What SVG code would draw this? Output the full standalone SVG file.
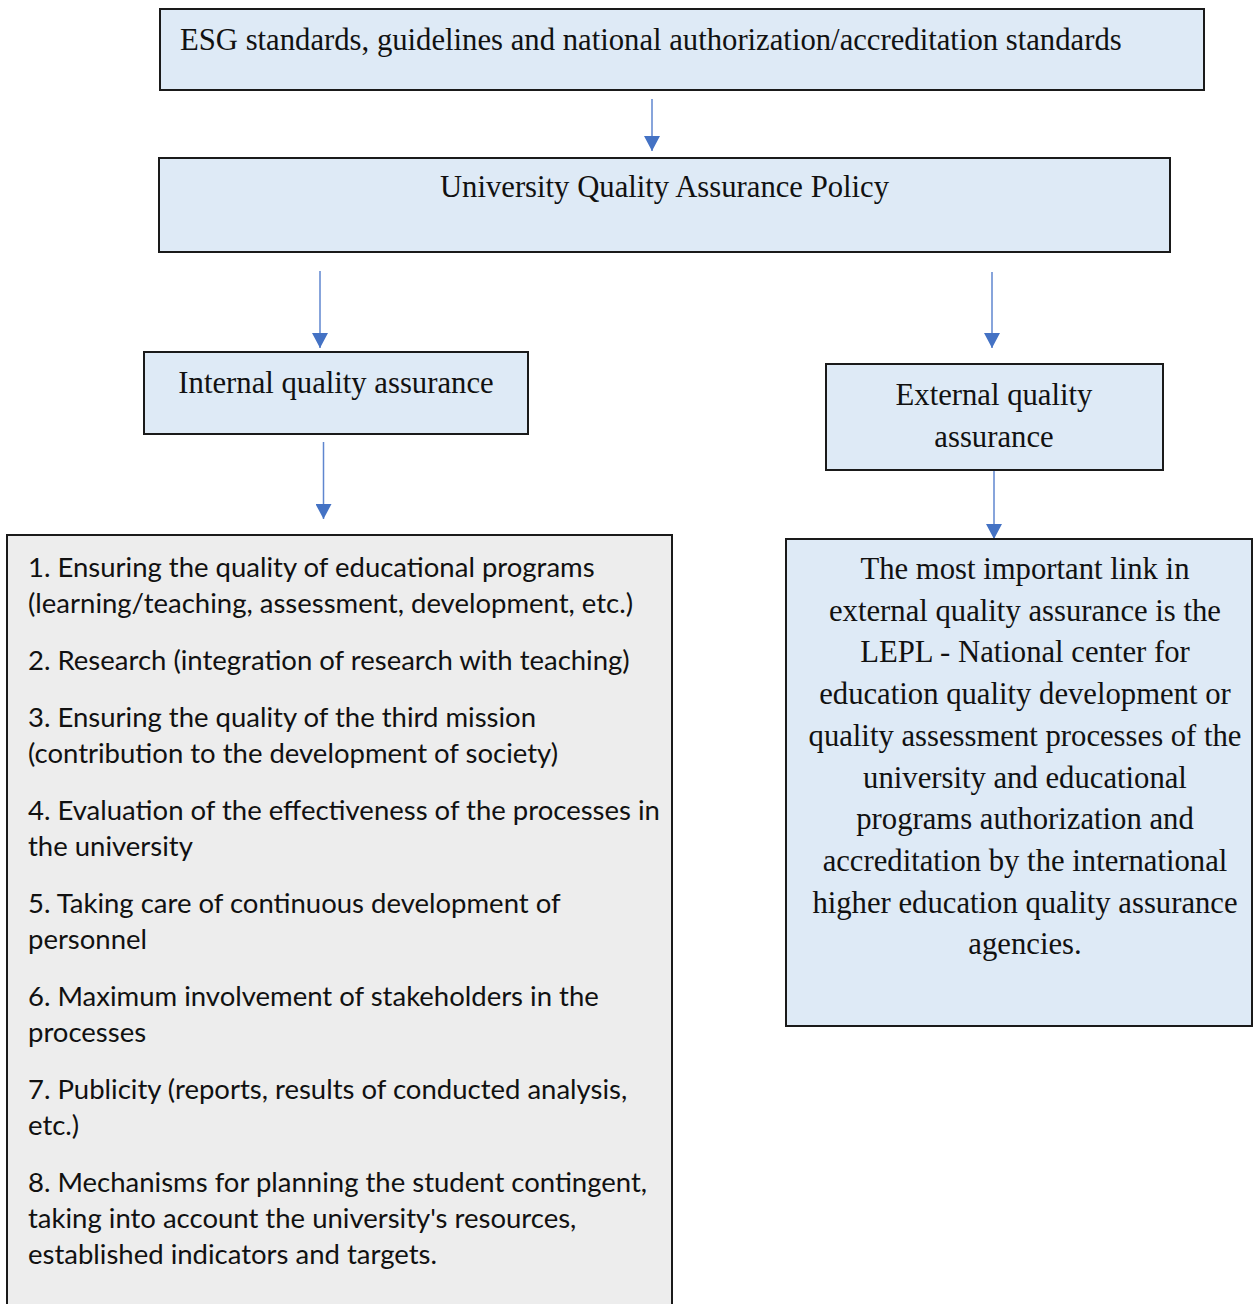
<svg xmlns="http://www.w3.org/2000/svg" width="1253" height="1304" viewBox="0 0 1253 1304">
<style>
.box{fill:#DEEAF6;stroke:#1a1a1a;stroke-width:2}
.gbox{fill:#EDEDED;stroke:#1a1a1a;stroke-width:2}
.serif{font-family:"Liberation Serif","Times New Roman",serif;font-size:30.7px;fill:#111}
.sans{font-family:Lato,"Open Sans",sans-serif;font-size:27.5px;fill:#111}
.mid{text-anchor:middle}
.conn{stroke:#5F86CF;stroke-width:1.5;fill:none;marker-end:url(#ah)}
</style>
<defs>
<marker id="ah" markerUnits="userSpaceOnUse" markerWidth="16" markerHeight="16" refX="15" refY="8" orient="auto" viewBox="0 0 16 16">
<path d="M0,0 L15,8 L0,16 z" fill="#4472C4"/>
</marker>
</defs>
<rect width="1253" height="1304" fill="#fff"/>
<g id="connectors">
<line class="conn" x1="652" y1="99" x2="652" y2="151"/>
<line class="conn" x1="320" y1="271" x2="320" y2="348"/>
<line class="conn" x1="992" y1="272" x2="992" y2="348"/>
<line class="conn" x1="323.5" y1="442" x2="323.5" y2="519"/>
<line class="conn" x1="994" y1="462" x2="994" y2="539"/>
</g>
<g id="esg">
<rect class="box" x="160" y="9" width="1044" height="81"/>
<text class="serif" x="180" y="50">ESG standards, guidelines and national authorization/accreditation standards</text>
</g>
<g id="policy">
<rect class="box" x="159" y="158" width="1011" height="94"/>
<text class="serif mid" x="664.5" y="197">University Quality Assurance Policy</text>
</g>
<g id="internal">
<rect class="box" x="144" y="352" width="384" height="82"/>
<text class="serif mid" x="336" y="393">Internal quality assurance</text>
</g>
<g id="external">
<rect class="box" x="826" y="364" width="337" height="106"/>
<text class="serif mid" x="994" y="405">External quality</text>
<text class="serif mid" x="994" y="447">assurance</text>
</g>
<g id="internal-list">
<rect class="gbox" x="7" y="535" width="665" height="800"/>
<text class="sans" x="28" y="577">1. Ensuring the quality of educational programs</text>
<text class="sans" x="28" y="613">(learning/teaching, assessment, development, etc.)</text>
<text class="sans" x="28" y="670">2. Research (integration of research with teaching)</text>
<text class="sans" x="28" y="727">3. Ensuring the quality of the third mission</text>
<text class="sans" x="28" y="763">(contribution to the development of society)</text>
<text class="sans" x="28" y="820">4. Evaluation of the effectiveness of the processes in</text>
<text class="sans" x="28" y="856">the university</text>
<text class="sans" x="28" y="913">5. Taking care of continuous development of</text>
<text class="sans" x="28" y="949">personnel</text>
<text class="sans" x="28" y="1006">6. Maximum involvement of stakeholders in the</text>
<text class="sans" x="28" y="1042">processes</text>
<text class="sans" x="28" y="1099">7. Publicity (reports, results of conducted analysis,</text>
<text class="sans" x="28" y="1135">etc.)</text>
<text class="sans" x="28" y="1192">8. Mechanisms for planning the student contingent,</text>
<text class="sans" x="28" y="1228">taking into account the university's resources,</text>
<text class="sans" x="28" y="1264">established indicators and targets.</text>
</g>
<g id="external-detail">
<rect class="box" x="786" y="539" width="466" height="487"/>
<text class="serif mid" x="1025" y="579">The most important link in</text>
<text class="serif mid" x="1025" y="620.7">external quality assurance is the</text>
<text class="serif mid" x="1025" y="662.4">LEPL - National center for</text>
<text class="serif mid" x="1025" y="704.1">education quality development or</text>
<text class="serif mid" x="1025" y="745.8">quality assessment processes of the</text>
<text class="serif mid" x="1025" y="787.5">university and educational</text>
<text class="serif mid" x="1025" y="829.2">programs authorization and</text>
<text class="serif mid" x="1025" y="870.9">accreditation by the international</text>
<text class="serif mid" x="1025" y="912.6">higher education quality assurance</text>
<text class="serif mid" x="1025" y="954.3">agencies.</text>
</g>
</svg>
